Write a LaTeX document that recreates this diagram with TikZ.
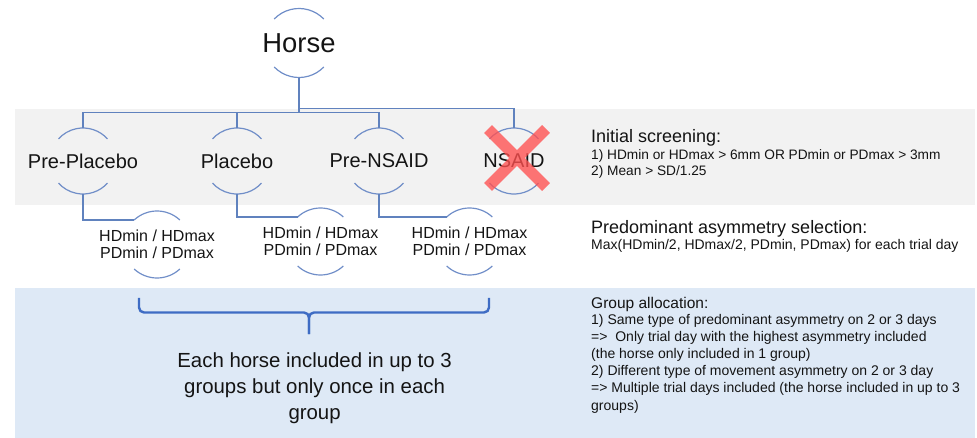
\documentclass[tikz,border=0pt]{standalone}
\usepackage{fontspec}
\setmainfont{Liberation Sans}
\usetikzlibrary{shapes.misc,calc}
\definecolor{bandgray}{RGB}{242,242,242}
\definecolor{bandblue}{RGB}{222,233,246}
\definecolor{linecol}{RGB}{96,130,190}
\definecolor{arccol}{RGB}{112,142,200}
\definecolor{bracecol}{RGB}{62,108,196}
\definecolor{xred}{RGB}{255,80,80}
\definecolor{txt}{RGB}{20,20,20}
\newcommand\ringarcs[3]{%
 \draw[arcline] ([shift={(#3:#2)}]#1.center) arc[start angle=#3,end angle=180-#3,radius=#2];
 \draw[arcline] ([shift={(-#3:#2)}]#1.center) arc[start angle=-#3,end angle=-180+#3,radius=#2];}
\begin{document}
\begin{tikzpicture}[x=1pt,y=-1pt,
  ring/.style={circle,draw=none,inner sep=0pt,minimum size=#1},
  lbl/.style={inner sep=0pt,text=txt},
  arcline/.style={draw=arccol,line width=1.2pt},
  conn/.style={draw=linecol,line width=1.3pt},
  brace/.style={draw=bracecol,line width=2.4pt,rounded corners=5pt},
  lvtwo/.style={lbl,font=\fontsize{20}{22}\selectfont},
  hdtext/.style={lbl,align=center,font=\fontsize{16}{17.5}\selectfont},
  head/.style={lbl,anchor=base west},
  body/.style={lbl,anchor=base west,font=\fontsize{14}{16}\selectfont}]
\useasboundingbox (0,0) rectangle (977,438);
\fill[bandgray] (15,109) rectangle (975,205);
\fill[bandblue] (15,288) rectangle (975,438);

% top node
\node[ring=69pt] (horse) at (299,43) {};
\node[lbl,font=\fontsize{27.4}{30}\selectfont] (horset) at (horse.center) {Horse};
\ringarcs{horse}{34.5pt}{44}

% second level
\node[ring=66pt] (prepl) at (83,161) {};
\node[lvtwo] (preplt) at (prepl.center) {Pre-Placebo};
\node[ring=66pt] (placebo) at (237,161) {};
\node[lvtwo] (placebot) at (placebo.center) {Placebo};
\node[ring=66pt] (prensaid) at (379,161) {};
\node[lvtwo] (prensaidt) at (prensaid.center) {Pre-NSAID};
\node[ring=66pt] (nsaid) at (514,161) {};
\node[lvtwo] (nsaidt) at (nsaid.center) {NSAID};
\foreach \n in {prepl,placebo,prensaid,nsaid}{\ringarcs{\n}{33pt}{42}}

% third level
\node[ring=67pt] (hd1) at (157,244.5) {};
\node[hdtext] (hd1t) at (hd1.center) {HDmin / HDmax\\PDmin / PDmax};
\node[ring=67pt] (hd2) at (320.5,241.5) {};
\node[hdtext] (hd2t) at (hd2.center) {HDmin / HDmax\\PDmin / PDmax};
\node[ring=67pt] (hd3) at (469.5,241.5) {};
\node[hdtext] (hd3t) at (hd3.center) {HDmin / HDmax\\PDmin / PDmax};
\foreach \n in {hd1,hd2,hd3}{\ringarcs{\n}{33.5pt}{47}}

% connectors
\draw[conn] (horse.south) |- ($(prepl.north)+(0,-15)$) -- (prepl.north);
\draw[conn] (horse.south) |- ($(placebo.north)+(0,-15)$) -- (placebo.north);
\draw[conn] (horse.south) |- ($(prensaid.north)+(0,-15)$) -- (prensaid.north);
\draw[conn] (horse.south) |- ($(nsaid.north)+(0,-19)$) -- (nsaid.north);
\draw[conn] (prepl.south) |- ([shift={(133:33.5pt)}]hd1.center);
\draw[conn] (placebo.south) |- ([shift={(133:33.5pt)}]hd2.center);
\draw[conn] (prensaid.south) |- ([shift={(133:33.5pt)}]hd3.center);

% red cross over NSAID
\node[cross out,draw=xred,draw opacity=.78,line width=11pt,minimum size=47pt,inner sep=0pt] (nsaidx) at (517,158) {};

% brace
\draw[brace] (139,298) -- (139,312.5) -- (309,312.5) -- (309,334);
\draw[brace] (489,298) -- (489,312.5) -- (309,312.5) -- (309,334);
\node[lbl,align=center,font=\fontsize{20.4}{25.9}\selectfont] (note) at (314.6,388)
  {Each horse included in up to 3\\groups but only once in each\\group};

% right column
\node[head,font=\fontsize{18}{20}\selectfont] (h1) at (591,142.7) {Initial screening:};
\node[body,font=\fontsize{13.7}{16}\selectfont] (s1) at (591,160) {1) HDmin or HDmax > 6mm OR PDmin or PDmax > 3mm};
\node[body,font=\fontsize{13.7}{16}\selectfont] (s2) at (591,176) {2) Mean > SD/1.25};
\node[head,font=\fontsize{18}{20}\selectfont] (h2) at (591,233.3) {Predominant asymmetry selection:};
\node[body] (p1) at (591,250) {Max(HDmin/2, HDmax/2, PDmin, PDmax) for each trial day};
\node[head,font=\fontsize{15.5}{18}\selectfont] (h3) at (591,308.3) {Group allocation:};
\node[body] (g1) at (591,324) {1) Same type of predominant asymmetry on 2 or 3 days};
\node[body] (g2) at (591,341.2) {=>~ Only trial day with the highest asymmetry included};
\node[body] (g3) at (591,358.4) {(the horse only included in 1 group)};
\node[body] (g4) at (591,375.6) {2) Different type of movement asymmetry on 2 or 3 day};
\node[body] (g5) at (591,392.8) {=> Multiple trial days included (the horse included in up to 3};
\node[body] (g6) at (591,410) {groups)};
\end{tikzpicture}
\end{document}
